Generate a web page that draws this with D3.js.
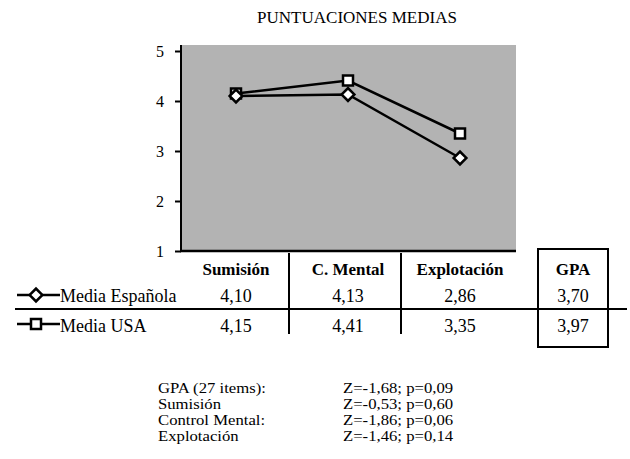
<!DOCTYPE html>
<html>
<head>
<meta charset="utf-8">
<script src="https://cdn.jsdelivr.net/npm/d3@7"></script>
<style>
  html, body { margin: 0; padding: 0; background: #fff; }
  svg text { font-family: 'Liberation Serif', 'Times New Roman', Times, 'DejaVu Serif', serif; }
</style>
</head>
<body>
<svg id="chart" width="630" height="459"></svg>
<script>
const title = "PUNTUACIONES MEDIAS";
const categories = ["Sumisión", "C. Mental", "Explotación"];
const extraColumn = "GPA";
const seriesNames = ["Media Española", "Media USA"];
const mediaEspanola = [4.10, 4.13, 2.86];
const mediaUSA = [4.15, 4.41, 3.35];
const gpaValues = [3.70, 3.97];
const yTicks = [1, 2, 3, 4, 5];
const statLabels = ["GPA (27 items):", "Sumisión", "Control Mental:", "Explotación"];
const statValues = ["Z=-1,68; p=0,09", "Z=-0,53; p=0,60", "Z=-1,86; p=0,06", "Z=-1,46; p=0,14"];

const FONT = "'Liberation Serif', 'Times New Roman', Times, 'DejaVu Serif', serif";
const fmt = v => d3.format(".2f")(v).replace(".", ",");
const svg = d3.select("#chart").attr("font-family", FONT);
const txt = (px, py, s, size, anchor, weight) => svg.append("text")
  .attr("x", px).attr("y", py).attr("font-size", size).attr("font-family", FONT)
  .attr("text-anchor", anchor || "start").attr("font-weight", weight || "normal")
  .attr("fill", "#000").text(s);

const x = d3.scaleBand().domain(categories).range([180, 516]);
const y = d3.scaleLinear().domain([1, 5]).range([251, 51]);

// title
txt(357, 23, title, 17, "middle");

// plot background
svg.append("rect").attr("x", 181).attr("y", y(5) - 6).attr("width", 335).attr("height", y(1) - y(5) + 6)
  .attr("fill", "#b3b3b3");

// y axis
const yAxis = d3.axisLeft(y).tickValues(yTicks).tickSize(6).tickPadding(11).tickFormat(d3.format("d"));
const ga = svg.append("g").attr("transform", "translate(181,0)").call(yAxis).attr("font-family", FONT);
ga.select(".domain").remove();
ga.selectAll(".tick line").attr("stroke", "#000").attr("stroke-width", 2);
ga.selectAll(".tick text").attr("font-size", 16).attr("font-family", FONT).attr("fill", "#000");
svg.append("line").attr("x1", 181).attr("x2", 181).attr("y1", y(5) - 6).attr("y2", y(1) + 1)
  .attr("stroke", "#000").attr("stroke-width", 2);
svg.append("line").attr("x1", 180).attr("x2", 516).attr("y1", y(1)).attr("y2", y(1))
  .attr("stroke", "#000").attr("stroke-width", 2.5);

// lines
const cx = c => x(c) + x.bandwidth() / 2;
const line = d3.line().x((d, i) => cx(categories[i])).y(d => y(d));
[mediaEspanola, mediaUSA].forEach(s => {
  svg.append("path").attr("d", line(s)).attr("fill", "none").attr("stroke", "#000").attr("stroke-width", 2.5);
});

const diamond = (px, py) => svg.append("rect").attr("x", -4.5).attr("y", -4.5).attr("width", 9).attr("height", 9)
  .attr("transform", `translate(${px},${py}) rotate(45)`)
  .attr("fill", "#fff").attr("stroke", "#000").attr("stroke-width", 2.5);
const square = (px, py) => svg.append("rect").attr("x", px - 5).attr("y", py - 5).attr("width", 10).attr("height", 10)
  .attr("fill", "#fff").attr("stroke", "#000").attr("stroke-width", 2.5);

mediaUSA.forEach((v, i) => square(cx(categories[i]), y(v)));
mediaEspanola.forEach((v, i) => diamond(cx(categories[i]), y(v)));

// table
const headerY = 275, rowY = [302, 332];
const gpaX = 573;
categories.forEach(c => txt(cx(c), headerY, c, 17, "middle", "bold"));
txt(gpaX, headerY, extraColumn, 17, "middle", "bold");

[mediaEspanola, mediaUSA].forEach((s, r) => {
  s.forEach((v, i) => txt(cx(categories[i]), rowY[r], fmt(v), 18, "middle"));
  txt(gpaX, rowY[r], fmt(gpaValues[r]), 18, "middle");
});

// column dividers
[categories[1], categories[2]].forEach(c => {
  svg.append("line").attr("x1", x(c) - 3).attr("x2", x(c) - 3).attr("y1", 253).attr("y2", 334)
    .attr("stroke", "#000").attr("stroke-width", 2);
});
// row divider
svg.append("line").attr("x1", 15).attr("x2", 627).attr("y1", 309).attr("y2", 309)
  .attr("stroke", "#000").attr("stroke-width", 2);
// GPA box
svg.append("rect").attr("x", 538).attr("y", 249).attr("width", 70).attr("height", 98)
  .attr("fill", "none").attr("stroke", "#000").attr("stroke-width", 2);

// legend
const legY = [295, 324];
seriesNames.forEach((n, r) => {
  svg.append("line").attr("x1", 17).attr("x2", 60).attr("y1", legY[r]).attr("y2", legY[r])
    .attr("stroke", "#000").attr("stroke-width", 2.5);
  if (r === 0) diamond(36, legY[r]); else square(36, legY[r]);
  txt(60, rowY[r], n, 18);
});

// stats (slightly wide-set text, as in the reference)
const statY = [393, 409, 425, 441];
const stretch = (px, py, s) => svg.append("text")
  .attr("transform", `translate(${px},${py}) scale(1.16,1)`)
  .attr("font-size", 14.4).attr("font-family", FONT).attr("fill", "#000").text(s);
statLabels.forEach((t, i) => {
  stretch(158, statY[i], t);
  stretch(343, statY[i], statValues[i]);
});
</script>
</body>
</html>
